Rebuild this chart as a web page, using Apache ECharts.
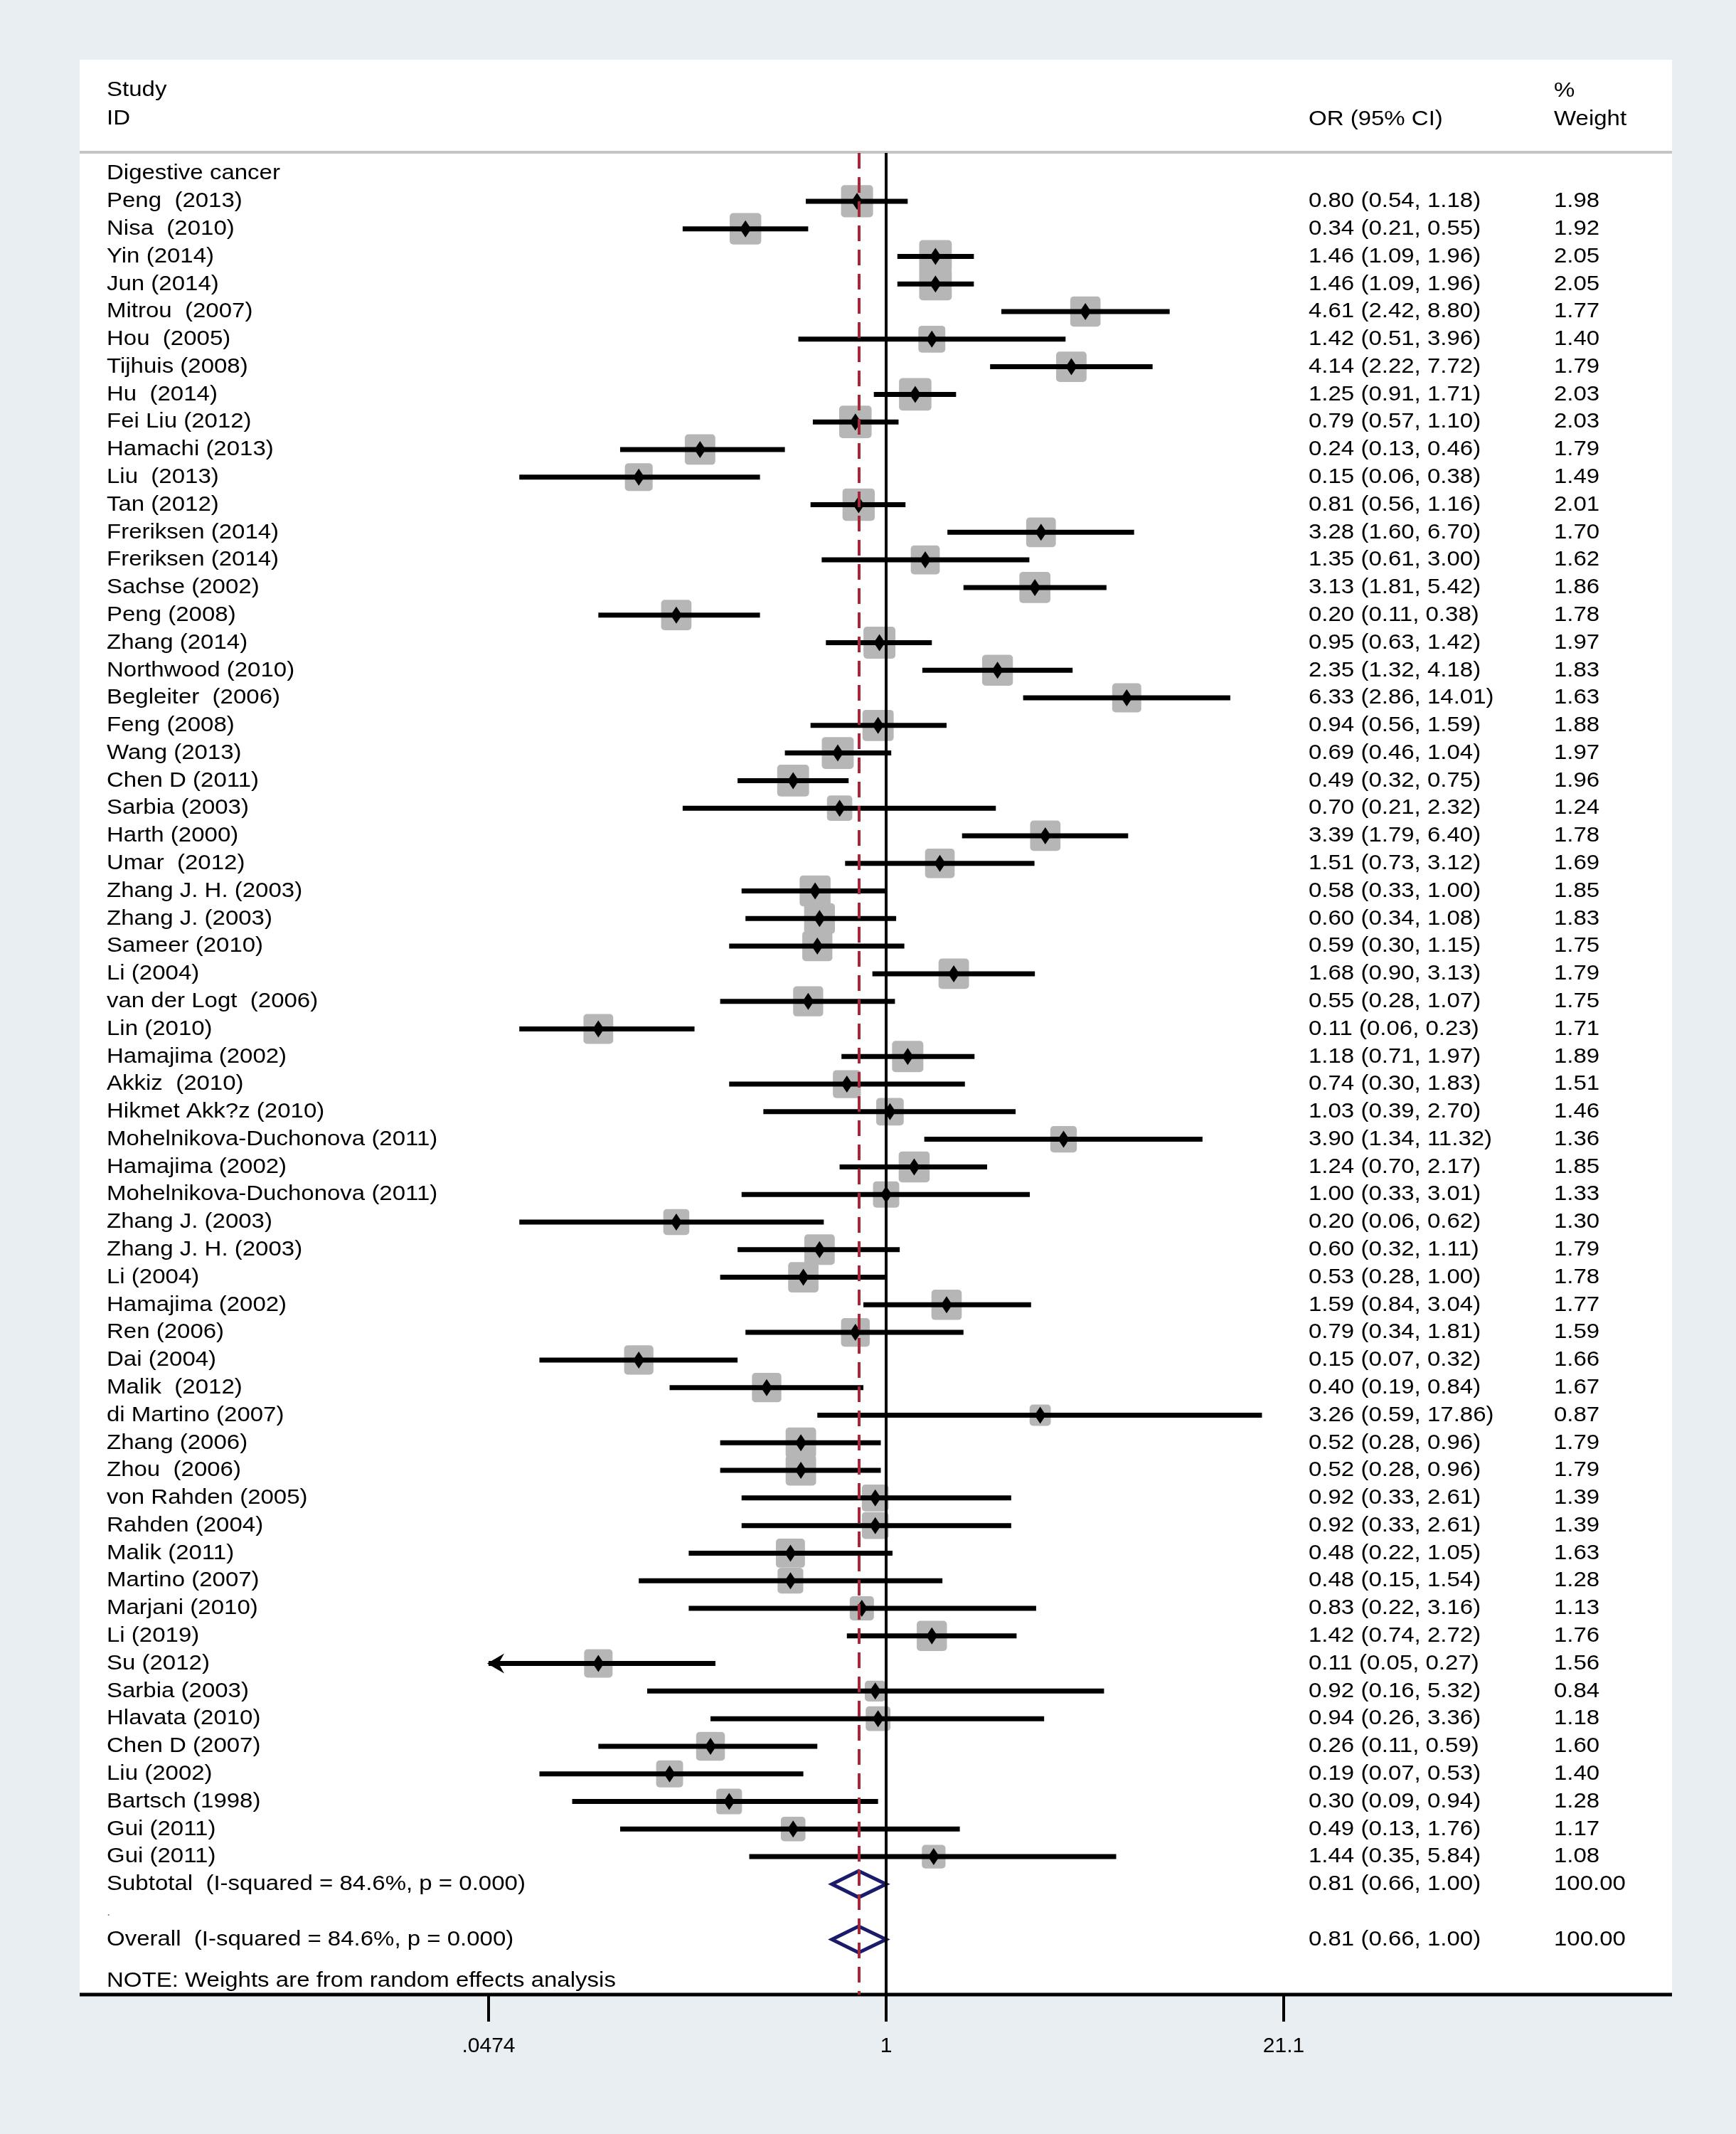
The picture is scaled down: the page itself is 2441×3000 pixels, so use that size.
<!DOCTYPE html>
<html>
<head>
<meta charset="utf-8">
<title>Forest plot - digestive cancer</title>
<script src="https://cdn.jsdelivr.net/npm/echarts@6.0.0/dist/echarts.min.js"></script>
<style>
  html, body { margin: 0; padding: 0; background: #e8eef2; }
  #chart { width: 2441px; height: 3000px; }
</style>
</head>
<body>
<div id="chart"></div>
<script>
// values
const groupLabel = 'Digestive cancer';
const studies = [
  'Peng  (2013)', 'Nisa  (2010)', 'Yin (2014)', 'Jun (2014)', 'Mitrou  (2007)', 'Hou  (2005)',
  'Tijhuis (2008)', 'Hu  (2014)', 'Fei Liu (2012)', 'Hamachi (2013)', 'Liu  (2013)', 'Tan (2012)',
  'Freriksen (2014)', 'Freriksen (2014)', 'Sachse (2002)', 'Peng (2008)', 'Zhang (2014)',
  'Northwood (2010)', 'Begleiter  (2006)', 'Feng (2008)', 'Wang (2013)', 'Chen D (2011)',
  'Sarbia (2003)', 'Harth (2000)', 'Umar  (2012)', 'Zhang J. H. (2003)', 'Zhang J. (2003)',
  'Sameer (2010)', 'Li (2004)', 'van der Logt  (2006)', 'Lin (2010)', 'Hamajima (2002)',
  'Akkiz  (2010)', 'Hikmet Akk?z (2010)', 'Mohelnikova-Duchonova (2011)', 'Hamajima (2002)',
  'Mohelnikova-Duchonova (2011)', 'Zhang J. (2003)', 'Zhang J. H. (2003)', 'Li (2004)',
  'Hamajima (2002)', 'Ren (2006)', 'Dai (2004)', 'Malik  (2012)', 'di Martino (2007)',
  'Zhang (2006)', 'Zhou  (2006)', 'von Rahden (2005)', 'Rahden (2004)', 'Malik (2011)',
  'Martino (2007)', 'Marjani (2010)', 'Li (2019)', 'Su (2012)', 'Sarbia (2003)', 'Hlavata (2010)',
  'Chen D (2007)', 'Liu (2002)', 'Bartsch (1998)', 'Gui (2011)', 'Gui (2011)'
];
const orVals = [
  0.80, 0.34, 1.46, 1.46, 4.61, 1.42, 4.14, 1.25, 0.79, 0.24, 0.15, 0.81, 3.28, 1.35, 3.13, 0.20,
  0.95, 2.35, 6.33, 0.94, 0.69, 0.49, 0.70, 3.39, 1.51, 0.58, 0.60, 0.59, 1.68, 0.55, 0.11, 1.18,
  0.74, 1.03, 3.90, 1.24, 1.00, 0.20, 0.60, 0.53, 1.59, 0.79, 0.15, 0.40, 3.26, 0.52, 0.52, 0.92,
  0.92, 0.48, 0.48, 0.83, 1.42, 0.11, 0.92, 0.94, 0.26, 0.19, 0.30, 0.49, 1.44
];
const ciLow = [
  0.54, 0.21, 1.09, 1.09, 2.42, 0.51, 2.22, 0.91, 0.57, 0.13, 0.06, 0.56, 1.60, 0.61, 1.81, 0.11,
  0.63, 1.32, 2.86, 0.56, 0.46, 0.32, 0.21, 1.79, 0.73, 0.33, 0.34, 0.30, 0.90, 0.28, 0.06, 0.71,
  0.30, 0.39, 1.34, 0.70, 0.33, 0.06, 0.32, 0.28, 0.84, 0.34, 0.07, 0.19, 0.59, 0.28, 0.28, 0.33,
  0.33, 0.22, 0.15, 0.22, 0.74, 0.046, 0.16, 0.26, 0.11, 0.07, 0.09, 0.13, 0.35
];
const ciHigh = [
  1.18, 0.55, 1.96, 1.96, 8.80, 3.96, 7.72, 1.71, 1.10, 0.46, 0.38, 1.16, 6.70, 3.00, 5.42, 0.38,
  1.42, 4.18, 14.01, 1.59, 1.04, 0.75, 2.32, 6.40, 3.12, 1.00, 1.08, 1.15, 3.13, 1.07, 0.23, 1.97,
  1.83, 2.70, 11.32, 2.17, 3.01, 0.62, 1.11, 1.00, 3.04, 1.81, 0.32, 0.84, 17.86, 0.96, 0.96, 2.61,
  2.61, 1.05, 1.54, 3.16, 2.72, 0.27, 5.32, 3.36, 0.59, 0.53, 0.94, 1.76, 5.84
];
const weights = [
  1.98, 1.92, 2.05, 2.05, 1.77, 1.40, 1.79, 2.03, 2.03, 1.79, 1.49, 2.01, 1.70, 1.62, 1.86, 1.78,
  1.97, 1.83, 1.63, 1.88, 1.97, 1.96, 1.24, 1.78, 1.69, 1.85, 1.83, 1.75, 1.79, 1.75, 1.71, 1.89,
  1.51, 1.46, 1.36, 1.85, 1.33, 1.30, 1.79, 1.78, 1.77, 1.59, 1.66, 1.67, 0.87, 1.79, 1.79, 1.39,
  1.39, 1.63, 1.28, 1.13, 1.76, 1.56, 0.84, 1.18, 1.60, 1.40, 1.28, 1.17, 1.08
];

// pooled (random effects) rows: subtotal, overall
const pooledLabels = ['Subtotal  (I-squared = 84.6%, p = 0.000)', 'Overall  (I-squared = 84.6%, p = 0.000)'];
const pooledOr = [0.81, 0.81];
const pooledLow = [0.66, 0.66];
const pooledHigh = [1.00, 1.00];
const pooledWeight = [100, 100];
const noteText = 'NOTE: Weights are from random effects analysis';

const xTicks = [0.0474, 1, 21.1];
const xTickLabels = ['.0474', '1', '21.1'];

// ---- layout bits (pixels) ----
const FONT = '"Liberation Sans", Arial, sans-serif';
const STRETCH = 1.10;          // stata text is a bit wider than plain arial
const colStudy = 150, colCI = 1840, colW = 2185;
const panel = { x: 112, y: 84, w: 2239, h: 2720 };
const axisY = panel.y + panel.h;

const xMin = Math.log(xTicks[0]);
const xMax = Math.log(xTicks[xTicks.length - 1]);

// rows: 0 = group title, 1..n = studies, then subtotal, blank, overall, note
const nStudy = studies.length;
const subRow = nStudy + 1;
const overallRow = nStudy + 3;
const noteRow = nStudy + 4.5;
const axisRow = nStudy + 5;

const fmt = v => v.toFixed(2);
const ciText = (o, l, h) => `${fmt(o)} (${fmt(l)}, ${fmt(h)})`;

const studyData = studies.map((s, i) =>
  [Math.log(orVals[i]), i + 1, Math.log(ciLow[i]), Math.log(ciHigh[i]), weights[i]]);
const pooledRows = [subRow, overallRow];
const pooledData = pooledRows.map((r, i) =>
  [Math.log(pooledOr[i]), r, Math.log(pooledLow[i]), Math.log(pooledHigh[i])]);

// text table, one entry per row
const tableRows = [{ row: 0, label: groupLabel }];
studies.forEach((s, i) => {
  tableRows.push({ row: i + 1, label: s, ci: ciText(orVals[i], ciLow[i], ciHigh[i]), w: fmt(weights[i]) });
});
pooledRows.forEach((r, i) => {
  tableRows.push({ row: r, label: pooledLabels[i], ci: ciText(pooledOr[i], pooledLow[i], pooledHigh[i]), w: fmt(pooledWeight[i]) });
});
tableRows.push({ row: subRow + 1, label: '.', dot: true });
tableRows.push({ row: noteRow, label: noteText });

function txt(x, y, s, extra) {
  return Object.assign({
    type: 'text', x: x, y: y, scaleX: STRETCH,
    style: { text: s, fontSize: 30, fontFamily: FONT, fill: '#000', align: 'left', verticalAlign: 'middle' }
  }, extra || {});
}

const chart = echarts.init(document.getElementById('chart'), null, { renderer: 'canvas' });

const option = {
  animation: false,
  backgroundColor: '#e8eef2',
  grid: { left: 687, right: 2441 - 1805, top: 215, bottom: 3000 - axisY, containLabel: false },
  xAxis: {
    type: 'value',
    position: 'bottom',
    min: xMin,
    max: xMax,
    axisLine: { show: false, onZero: false },
    splitLine: { show: false },
    axisTick: {
      customValues: xTicks.map(Math.log),
      length: 38,
      lineStyle: { color: '#000', width: 4 }
    },
    axisLabel: {
      customValues: xTicks.map(Math.log),
      formatter: v => {
        let best = 0;
        xTicks.forEach((t, i) => {
          if (Math.abs(Math.log(t) - v) < Math.abs(Math.log(xTicks[best]) - v)) best = i;
        });
        return xTickLabels[best];
      },
      margin: 58,
      color: '#000',
      fontSize: 30,
      fontFamily: FONT
    }
  },
  yAxis: { type: 'value', inverse: true, min: -0.75, max: axisRow, show: false },
  graphic: [
    { type: 'rect', z: -10, silent: true, shape: { x: panel.x, y: panel.y, width: panel.w, height: panel.h }, style: { fill: '#fff' } },
    { type: 'line', z: 5, silent: true, shape: { x1: panel.x, y1: 214, x2: panel.x + panel.w, y2: 214 }, style: { stroke: '#c4c4c4', lineWidth: 4 } },
    { type: 'line', z: 5, silent: true, shape: { x1: panel.x, y1: axisY, x2: panel.x + panel.w, y2: axisY }, style: { stroke: '#000', lineWidth: 5 } },
    txt(colStudy, 127, 'Study'),
    txt(colStudy, 167, 'ID'),
    txt(colCI, 168, 'OR (95% CI)'),
    txt(colW, 128, '%'),
    txt(colW, 168, 'Weight')
  ],
  series: [
    {
      // boxes + CI whiskers + point estimate
      name: 'studies',
      type: 'custom',
      silent: true,
      clip: false,
      z: 3,
      encode: { x: 0, y: 1 },
      data: studyData,
      renderItem: (params, api) => {
        const row = api.value(1);
        const c = api.coord([api.value(0), row]);
        const lo = api.value(2), hi = api.value(3);
        const x0 = api.coord([Math.max(lo, xMin), row])[0];
        const x1 = api.coord([Math.min(hi, xMax), row])[0];
        const side = 32 * Math.sqrt(api.value(4));
        const kids = [
          { type: 'rect', shape: { x: c[0] - side / 2, y: c[1] - side / 2, width: side, height: side, r: 5 }, style: { fill: '#b6b6b6' } },
          { type: 'line', shape: { x1: x0, y1: c[1], x2: x1, y2: c[1] }, style: { stroke: '#000', lineWidth: 7 } },
          { type: 'polygon', shape: { points: [[c[0] - 8, c[1]], [c[0], c[1] - 12], [c[0] + 8, c[1]], [c[0], c[1] + 12]] }, style: { fill: '#000' } }
        ];
        // ci runs off the axis -> arrow
        if (lo < xMin) {
          kids.push({ type: 'polygon', shape: { points: [[x0 - 2, c[1]], [x0 + 22, c[1] - 14], [x0 + 14, c[1]], [x0 + 22, c[1] + 14]] }, style: { fill: '#000' } });
        }
        if (hi > xMax) {
          kids.push({ type: 'polygon', shape: { points: [[x1 + 2, c[1]], [x1 - 22, c[1] - 14], [x1 - 14, c[1]], [x1 - 22, c[1] + 14]] }, style: { fill: '#000' } });
        }
        return { type: 'group', children: kids };
      },
      markLine: {
        silent: true,
        symbol: 'none',
        label: { show: false },
        data: [
          { xAxis: Math.log(1), lineStyle: { color: '#000', width: 4, type: 'solid' } },
          { xAxis: Math.log(pooledOr[1]), lineStyle: { color: '#a3293a', width: 4, type: [22, 12] } }
        ]
      }
    },
    {
      // pooled diamonds
      name: 'pooled',
      type: 'custom',
      silent: true,
      clip: false,
      z: 4,
      encode: { x: 0, y: 1 },
      data: pooledData,
      renderItem: (params, api) => {
        const row = api.value(1);
        const c = api.coord([api.value(0), row]);
        const l = api.coord([api.value(2), row])[0];
        const h = api.coord([api.value(3), row])[0];
        return {
          type: 'polygon',
          shape: { points: [[l, c[1]], [c[0], c[1] - 18.5], [h, c[1]], [c[0], c[1] + 18.5]] },
          style: { fill: 'none', stroke: '#1b1b6b', lineWidth: 5, lineJoin: 'miter' }
        };
      }
    },
    {
      // left label column + OR (95% CI) + weight columns
      name: 'table',
      type: 'custom',
      silent: true,
      clip: false,
      z: 4,
      encode: { x: 0, y: 1 },
      data: tableRows.map(r => [0, r.row]),
      renderItem: (params, api) => {
        const r = tableRows[params.dataIndex];
        const y = api.coord([0, api.value(1)])[1];
        const kids = [];
        if (r.dot) {
          kids.push(txt(colStudy, y, r.label, { style: { text: r.label, fontSize: 18, fontFamily: FONT, fill: '#888', align: 'left', verticalAlign: 'middle' } }));
        } else {
          kids.push(txt(colStudy, y, r.label));
        }
        if (r.ci) kids.push(txt(colCI, y, r.ci));
        if (r.w) kids.push(txt(colW, y, r.w));
        return { type: 'group', children: kids };
      }
    }
  ]
};

chart.setOption(option);
</script>
</body>
</html>
